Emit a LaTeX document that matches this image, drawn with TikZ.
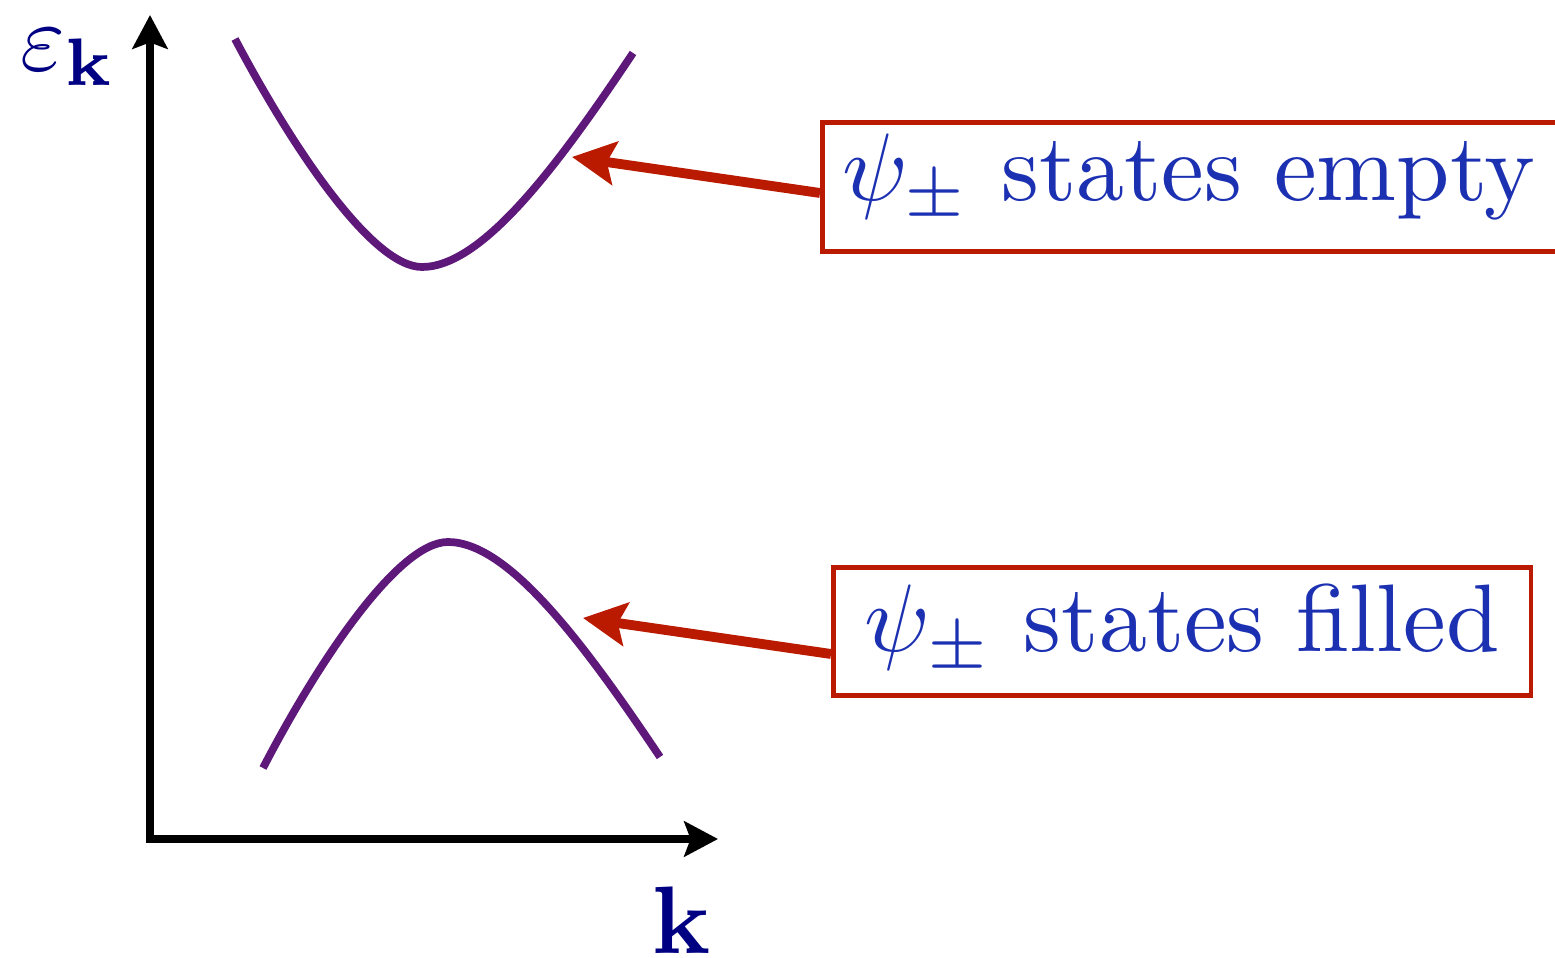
\documentclass[tikz,border=0pt]{standalone}
\usepackage{amsmath,amssymb}
\usetikzlibrary{arrows.meta}

\definecolor{bandpurple}{RGB}{94,24,122}
\definecolor{notered}{RGB}{185,26,0}
\definecolor{noteblue}{RGB}{28,48,178}
\definecolor{axisnavy}{RGB}{0,0,130}

% 10pt text blown up to the size of the picture
\newcommand{\bigtxt}[1]{\scalebox{2.73}{#1}}

\begin{document}
\begin{tikzpicture}[
    axis/.style={line width=2.3pt, line cap=rect, -{Stealth[length=9.6pt, width=10pt, inset=1.8pt]}},
    band/.style={line width=2.2pt, draw=bandpurple},
    note/.style={rectangle, draw=notered, line width=1.3pt, fill=white, text=noteblue, inner xsep=0pt, inner ysep=0pt},
    pointer/.style={line width=2.8pt, color=notered, -{Stealth[length=12.3pt, width=12.3pt, inset=2.3pt]}},
    axlabel/.style={text=axisnavy, inner sep=0pt}
]
    \useasboundingbox (0,0) rectangle (15.55,9.58);

    % axes
    \coordinate (O) at (1.50,1.19);
    \coordinate (ytop) at (1.50,9.43);
    \coordinate (xend) at (7.18,1.19);
    \draw[axis] (O) -- (ytop);
    \draw[axis] (O) -- (xend);
    \node[axlabel, anchor=base west] (energy) at (0.20,8.87) {\bigtxt{$\varepsilon_{\mathbf{k}}$}};
    \node[axlabel, anchor=base] (wavevec) at (6.815,0.04) {\bigtxt{$\mathbf{k}$}};

    % bands
    \draw[band] (2.35,9.19) .. controls (2.92,8.11) and (3.72,6.91) .. (4.22,6.91)
                .. controls (4.82,6.91) and (5.57,7.91) .. (6.33,9.05);
    \draw[band] (2.63,1.90) .. controls (3.18,2.96) and (3.98,4.16) .. (4.48,4.16)
                .. controls (5.08,4.16) and (5.83,3.16) .. (6.60,2.01);

    % notes
    \node[note, anchor=west, text width=7.3cm, align=left, inner xsep=0.2cm, text height=0.78cm, text depth=0.51cm] (empty) at (8.20,7.71) {\bigtxt{$\psi_\pm$ states empty}};
    \node[note, anchor=west, minimum width=6.975cm, text height=0.845cm, text depth=0.435cm] (filled) at (8.31,3.265) {\bigtxt{$\psi_\pm$ states filled}};

    \coordinate (tipE) at (5.72,8.01);
    \coordinate (tipF) at (5.83,3.40);
    \draw[pointer] ([yshift=-0.06cm]empty.west) -- (tipE);
    \draw[pointer] ([yshift=-0.225cm]filled.west) -- (tipF);
\end{tikzpicture}
\end{document}
